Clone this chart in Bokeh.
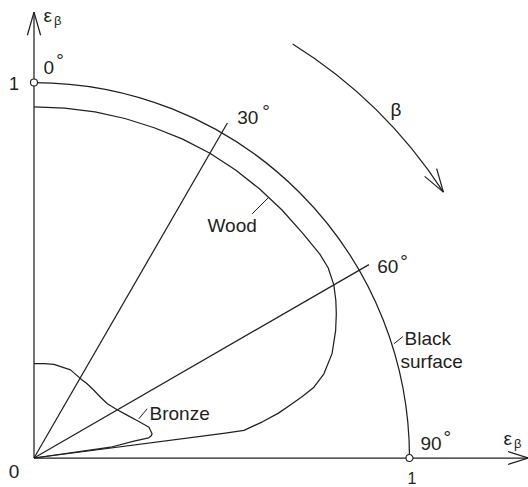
import numpy as np
from bokeh.plotting import figure
from bokeh.models import Range1d, ColumnDataSource
from bokeh.core.properties import value
from bokeh.embed import file_html
from bokeh.resources import INLINE

# Directional emissivity eps(beta); beta measured from the surface normal, degrees
WOOD_BETA = [0, 5, 10, 15, 20, 25, 30, 35, 40, 45, 50, 54.5, 57.1, 60, 62.4, 64.5,
             67.1, 70.7, 73.8, 75.8, 77.1, 78.3, 79.6, 81.0, 82.5, 82.6, 90]
WOOD_EPS = [0.935, 0.935, 0.936, 0.936, 0.936, 0.937, 0.937, 0.936, 0.935, 0.934, 0.933,
            0.935, 0.933, 0.922, 0.907, 0.892, 0.872, 0.841, 0.804, 0.769, 0.733, 0.698,
            0.662, 0.616, 0.564, 0.514, 0.0]

BRONZE_BETA = [0, 6, 12, 22.5, 30.4, 35.6, 41, 47.6, 53.5, 59.9, 65, 70, 75, 78.4, 79.3,
               80, 80.4, 82, 90]
BRONZE_EPS = [0.251, 0.253, 0.255, 0.254, 0.245, 0.243, 0.241, 0.240, 0.243, 0.256, 0.272,
              0.292, 0.317, 0.321, 0.318, 0.310, 0.270, 0.206, 0.0]

BLACK_EPS = 1.0                 # black surface: eps = 1 in every direction
RAY_BETA = [30, 60]             # guide rays
RAY_LEN = 1.03
ANGLE_LABELS = ["0", "30", "60", "90"]
AXIS_TICKS = ["0", "1", "1"]

INK = "#231f20"
FONT = value("Liberation Sans")

# screen geometry: 375.5 px per unit, origin at (33.5, 457.5) px from the top-left
W, H = 528, 487
S = 375.5
OX, OY = 33.5, 457.5


def d(px, py):
    """pixel position -> data position"""
    return (px - OX) / S, (OY - py) / S


def polar(beta_deg, eps):
    b = np.radians(np.asarray(beta_deg, dtype=float))
    e = np.asarray(eps, dtype=float)
    return e * np.sin(b), e * np.cos(b)


p = figure(width=W, height=H, output_backend="svg", toolbar_location=None,
           x_range=Range1d(-OX / S, (W - OX) / S), y_range=Range1d(-(H - OY) / S, OY / S),
           min_border=0, outline_line_color=None, background_fill_color="white",
           border_fill_color="white")
p.axis.visible = False
p.grid.visible = False

LW = 1.25

# axes with open arrowheads
y_tip = d(OX, 11.7)[1]
x_tip = d(527.5, OY)[0]
p.line([0, 0], [0, y_tip], line_color=INK, line_width=LW)
p.line([0, x_tip], [0, 0], line_color=INK, line_width=LW)


def open_head(tx, ty, ang, length, half):
    """two wing lines ending at (tx, ty); ang = travel direction (radians, data space)"""
    xs, ys = [], []
    for s in (-1, 1):
        a = ang + np.pi + s * half
        xs.append([tx + length * np.cos(a), tx])
        ys.append([ty + length * np.sin(a), ty])
    p.multi_line(xs, ys, line_color=INK, line_width=LW)


open_head(0, y_tip, np.pi / 2, 24 / S, np.radians(16))
open_head(x_tip, 0, 0.0, 21 / S, np.radians(18))

# black surface: quarter circle eps = 1
p.arc(x=0, y=0, radius=BLACK_EPS, start_angle=0, end_angle=np.pi / 2,
      line_color=INK, line_width=LW)

# guide rays at 30 and 60 degrees
rx, ry = polar(RAY_BETA, [RAY_LEN] * len(RAY_BETA))
p.multi_line([[0, x] for x in rx], [[0, y] for y in ry], line_color=INK, line_width=LW)

# wood and bronze
wx, wy = polar(WOOD_BETA, WOOD_EPS)
p.line(wx, wy, line_color=INK, line_width=LW, line_join="round")
bx, by = polar(BRONZE_BETA, BRONZE_EPS)
p.line(bx, by, line_color=INK, line_width=LW, line_join="round")

# unit markers on both axes
p.scatter([0, 1], [1, 0], marker="circle", size=7, fill_color="white",
          line_color=INK, line_width=1.1)

# beta direction arrow: arc at radius 1.3 from 32 to 57 degrees
R_B = 1.3
b0, b1 = 32.0, 57.0
p.arc(x=0, y=0, radius=R_B, start_angle=np.radians(90 - b1), end_angle=np.radians(90 - b0),
      line_color=INK, line_width=LW)
tx, ty = polar([b1], [R_B])
open_head(tx[0], ty[0], -np.radians(b1), 24.5 / S, np.radians(17))

# leader lines
leaders = [((268.3, 196.7), (251.7, 213.3)),   # Wood
           ((146.7, 408.3), (138.3, 418.3)),   # Bronze
           ((393.3, 343.3), (402.5, 336.0))]   # Black surface
p.multi_line([[d(*a)[0], d(*b)[0]] for a, b in leaders],
             [[d(*a)[1], d(*b)[1]] for a, b in leaders],
             line_color=INK, line_width=1.0)

# the renderer sets alphabetic text a little low; lift it by this fraction of the size
LIFT = 0.37


def labels(items, size, align="left"):
    xs, ys, ts = [], [], []
    for t, px, py in items:
        x, y = d(px, py - LIFT * size)
        xs.append(x)
        ys.append(y)
        ts.append(t)
    src = ColumnDataSource(dict(x=xs, y=ys, t=ts))
    p.text("x", "y", text="t", source=src, text_font=FONT, text_font_size=f"{size}px",
           text_color=INK, text_align=align, text_baseline="alphabetic")


FS = 19
labels([
    (ANGLE_LABELS[0], 43.0, 74.0),
    (ANGLE_LABELS[1], 236.7, 124.0),
    (ANGLE_LABELS[2], 376.7, 273.3),
    (ANGLE_LABELS[3], 420.0, 450.0),
    (AXIS_TICKS[0], 8.3, 478.5),
    ("Wood", 207.0, 232.3),
    ("Bronze", 149.0, 420.0),
    ("Black", 404.0, 345.0),
    ("surface", 400.0, 368.0),
    ("β", 390.0, 116.0),
    ("ε", 43.0, 22.0),
    ("ε", 503.0, 445.0),
], FS)
labels([(AXIS_TICKS[1], 18.5, 90.0)], 18, align="right")
labels([(AXIS_TICKS[2], 411.5, 483.5)], 16, align="center")
labels([("β", 53.5, 24.5), ("β", 513.5, 447.5)], 13)

# degree rings, raised like superscripts
deg_centres = [(59.5, 56.0), (265.5, 107.0), (403.5, 257.0), (446.7, 433.4)]
labels([("°", cx, cy + 0.57 * FS) for cx, cy in deg_centres], FS, align="center")

open("out.html", "w").write(file_html(p, INLINE))
